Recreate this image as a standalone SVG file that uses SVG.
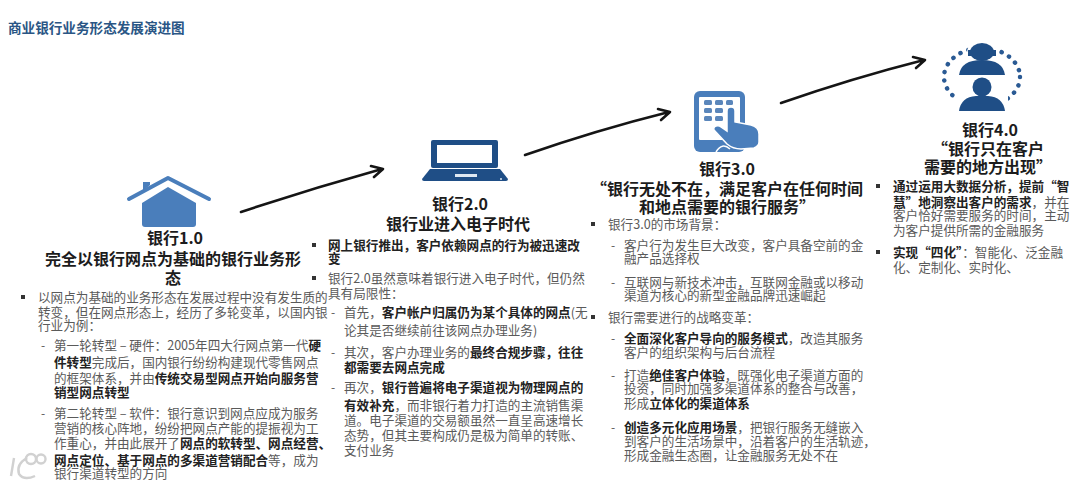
<svg xmlns="http://www.w3.org/2000/svg" width="1080" height="487" viewBox="0 0 1080 487">
<style>
text{font-family:"Noto Sans CJK SC","Liberation Sans",sans-serif}
.t{font-size:12.6px;fill:#5a5a5a}
.t b,.b{font-weight:700;fill:#222}
.h{font-size:16px;font-weight:700;fill:#1c1c1c;text-anchor:middle}
.d{font-size:12px;fill:#555}
.blt{fill:#333}
.a{fill:none;stroke:#151515;stroke-width:2.6;stroke-linecap:round;stroke-linejoin:round}
.lb{fill:#4a7ebb}
.db{fill:#1f4e86}
</style>
<defs>
<rect id="sq" x="-2" y="-2" width="4" height="4" class="blt"/>
</defs>
<rect width="1080" height="487" fill="#fff"/>
<text x="8" y="33" font-size="13.6" font-weight="700" fill="#2a5685">商业银行业务形态发展演进图</text>

<g id="connectors">
<path class="a" d="M241 212Q310 189 382 169M371 166L383 169L374 177"/>
<path class="a" d="M525 155Q597 130 669 112M658 109L670 112L661 120"/>
<path class="a" d="M781 103Q853 78 924 60M913 57L925 60L916 68"/>
</g>

<g id="node-1">
<path class="lb" d="M143 190V182H150V185L143 191Z"/>
<path d="M129 199L168 178L209 199" fill="none" stroke="#4a7ebb" stroke-width="4" stroke-linecap="round" stroke-linejoin="round"/>
<path class="lb" d="M142 203L168 187L196 203V224Q196 227 193 227H145Q142 227 142 224Z"/>
<text class="h" x="175" y="244">银行1.0</text>
<text class="h" x="173" y="265">完全以银行网点为基础的银行业务形</text>
<text class="h" x="173" y="284">态</text>
<use href="#sq" x="23" y="297"/>
<text class="t" x="38" y="302">以网点为基础的业务形态在发展过程中没有发生质的</text>
<text class="t" x="38" y="317">转变，但在网点形态上，经历了多轮变革，以国内银</text>
<text class="t" x="38" y="330">行业为例：</text>
<text class="d" x="41" y="350">-</text>
<text class="t" x="54" y="350">第一轮转型 – 硬件：2005年四大行网点第一代<tspan class="b">硬</tspan></text>
<text class="t" x="54" y="367"><tspan class="b">件转型</tspan>完成后，国内银行纷纷构建现代零售网点</text>
<text class="t" x="54" y="383">的框架体系，并由<tspan class="b">传统交易型网点开始向服务营</tspan></text>
<text class="t" x="54" y="397"><tspan class="b">销型网点转型</tspan></text>
<text class="d" x="41" y="418">-</text>
<text class="t" x="54" y="418">第二轮转型 – 软件：银行意识到网点应成为服务</text>
<text class="t" x="54" y="433">营销的核心阵地，纷纷把网点产能的提振视为工</text>
<text class="t" x="54" y="448">作重心，并由此展开了<tspan class="b">网点的软转型、网点经营、</tspan></text>
<text class="t" x="54" y="465"><tspan class="b">网点定位、基于网点的多渠道营销配合</tspan>等，成为</text>
<text class="t" x="54" y="478">银行渠道转型的方向</text>
</g>

<g id="node-2">
<rect x="431" y="140" width="67" height="28" rx="2" class="db"/>
<rect x="437" y="145" width="55" height="18" fill="#fff"/>
<path class="db" d="M430 169H500L508 179Q508 181 506 181H424Q422 181 422 179Z"/>
<rect x="455" y="174" width="22" height="3" fill="#dfe8f2"/>
<circle cx="501" cy="179" r="1" fill="#dfe8f2"/>
<text class="h" x="460" y="210">银行2.0</text>
<text class="h" x="458" y="230">银行业进入电子时代</text>
<use href="#sq" x="314" y="245"/>
<text class="t b" x="328" y="250">网上银行推出，客户依赖网点的行为被迅速改</text>
<text class="t b" x="328" y="263">变</text>
<use href="#sq" x="314" y="278"/>
<text class="t" x="328" y="283">银行2.0虽然意味着银行进入电子时代，但仍然</text>
<text class="t" x="328" y="298">具有局限性：</text>
<text class="d" x="331" y="317">-</text>
<text class="t" x="344" y="317">首先，<tspan class="b">客户帐户归属仍为某个具体的网点</tspan>(无</text>
<text class="t" x="344" y="335">论其是否继续前往该网点办理业务)</text>
<text class="d" x="331" y="357">-</text>
<text class="t" x="344" y="357">其次，客户办理业务的<tspan class="b">最终合规步骤，往往</tspan></text>
<text class="t" x="344" y="372"><tspan class="b">都需要去网点完成</tspan></text>
<text class="d" x="331" y="392">-</text>
<text class="t" x="344" y="392">再次，<tspan class="b">银行普遍将电子渠道视为物理网点的</tspan></text>
<text class="t" x="344" y="410"><tspan class="b">有效补充</tspan>，而非银行着力打造的主流销售渠</text>
<text class="t" x="344" y="425">道。电子渠道的交易额虽然一直呈高速增长</text>
<text class="t" x="344" y="440">态势，但其主要构成仍是极为简单的转账、</text>
<text class="t" x="344" y="455">支付业务</text>
</g>

<g id="node-3">
<rect x="694" y="91" width="51" height="61" rx="6" class="lb"/>
<rect x="699" y="97" width="41" height="43" rx="1" fill="#fff"/>
<g fill="#5a86bb">
<rect x="704" y="100" width="8" height="5" rx="1.5"/><rect x="715" y="100" width="8" height="5" rx="1.5"/><rect x="726" y="100" width="7" height="5" rx="1.5"/>
<rect x="704" y="108" width="8" height="5" rx="1.5"/><rect x="715" y="108" width="8" height="5" rx="1.5"/>
<rect x="704" y="116" width="8" height="5" rx="1.5"/><rect x="715" y="116" width="8" height="5" rx="1.5"/>
</g>
<path class="lb" stroke="#fff" stroke-width="1.5" d="M727 111Q727 107 731 107Q735 107 735 111V122L751 125Q759 127 759 134V142Q759 146 754 148L741 149Q733 149 727 144L714 130Q713 127 716 126Q719 125 721 127L727 131Z"/>
<path fill="none" stroke="#fff" stroke-width="1.5" d="M716 152Q722 142 730 149"/>
<text class="h" x="727" y="175">银行3.0</text>
<text class="h" x="727" y="195">“银行无处不在，满足客户在任何时间</text>
<text class="h" x="727" y="213">和地点需要的银行服务”</text>
<use href="#sq" x="593" y="224"/>
<text class="t" x="608" y="229">银行3.0的市场背景：</text>
<text class="d" x="611" y="250">-</text>
<text class="t" x="624" y="250">客户行为发生巨大改变，客户具备空前的金</text>
<text class="t" x="624" y="263">融产品选择权</text>
<text class="d" x="611" y="287">-</text>
<text class="t" x="624" y="287">互联网与新技术冲击，互联网金融或以移动</text>
<text class="t" x="624" y="300">渠道为核心的新型金融品牌迅速崛起</text>
<use href="#sq" x="593" y="317"/>
<text class="t" x="608" y="322">银行需要进行的战略变革：</text>
<text class="d" x="611" y="343">-</text>
<text class="t" x="624" y="343"><tspan class="b">全面深化客户导向的服务模式</tspan>，改造其服务</text>
<text class="t" x="624" y="357">客户的组织架构与后台流程</text>
<text class="d" x="611" y="380">-</text>
<text class="t" x="624" y="380">打造<tspan class="b">绝佳客户体验</tspan>，既强化电子渠道方面的</text>
<text class="t" x="624" y="393">投资，同时加强多渠道体系的整合与改善，</text>
<text class="t" x="624" y="408">形成<tspan class="b">立体化的渠道体系</tspan></text>
<text class="d" x="611" y="432">-</text>
<text class="t" x="624" y="432"><tspan class="b">创造多元化应用场景</tspan>，把银行服务无缝嵌入</text>
<text class="t" x="624" y="446">到客户的生活场景中，沿着客户的生活轨迹，</text>
<text class="t" x="624" y="460">形成金融生态圈，让金融服务无处不在</text>
</g>

<g id="node-4">
<ellipse cx="982" cy="77" rx="38" ry="29" fill="none" stroke="#2a5a94" stroke-width="4.5" stroke-linecap="round" stroke-dasharray="0.1 8.4"/>
<circle cx="982" cy="53" r="15" fill="#fff"/>
<rect x="956" y="96" width="52" height="17" fill="#fff"/>
<ellipse cx="982" cy="52" rx="12" ry="9" class="db"/>
<rect x="968" y="50" width="3" height="6" class="db"/>
<rect x="993" y="50" width="3" height="6" class="db"/>
<path class="db" d="M959 75Q961 60 982 60Q1003 60 1005 75Z"/>
<circle cx="982" cy="87" r="9.5" class="db"/>
<path class="db" d="M959 111Q961 97 976 96H988Q1003 97 1005 111Z"/>
<text class="h" x="990" y="136">银行4.0</text>
<text class="h" x="988" y="155">“银行只在客户</text>
<text class="h" x="988" y="173">需要的地方出现”</text>
<use href="#sq" x="878" y="186"/>
<text class="t" x="893" y="191"><tspan class="b">通过运用大数据分析，提前“智</tspan></text>
<text class="t" x="893" y="207"><tspan class="b">慧”地洞察出客户的需求</tspan>，并在</text>
<text class="t" x="893" y="220">客户恰好需要服务的时间，主动</text>
<text class="t" x="893" y="235">为客户提供所需的金融服务</text>
<use href="#sq" x="878" y="252"/>
<text class="t" x="893" y="257"><tspan class="b">实现“四化”</tspan>：智能化、泛金融</text>
<text class="t" x="893" y="272">化、定制化、实时化、</text>
</g>

<g fill="none" stroke="#c9c9c9" stroke-width="2.4" opacity=".85">
<path d="M14 458L11 476"/>
<path d="M27 458Q16 464 19 474Q24 481 35 476"/>
<circle cx="31" cy="459" r="5"/>
<circle cx="41" cy="459" r="4.5"/>
</g>
</svg>
